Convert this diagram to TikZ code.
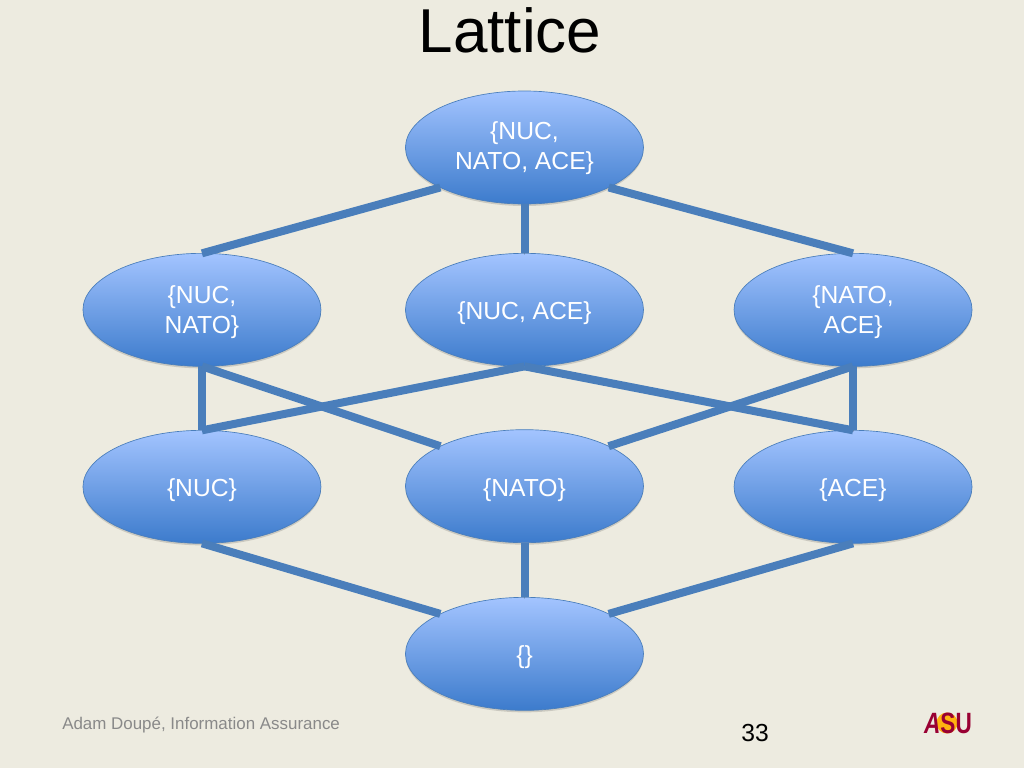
\documentclass[tikz,border=0pt]{standalone}
\usepackage{fontspec}
\setmainfont{Liberation Sans}
\usetikzlibrary{positioning}
\usetikzlibrary{shapes.geometric}
\usetikzlibrary{shadows}
\definecolor{slidebg}{HTML}{EDEBE0}
\definecolor{setlight}{HTML}{A3C4FF}
\definecolor{setdark}{HTML}{3C7BCC}
\definecolor{setedge}{HTML}{4A7EBB}
\definecolor{footgrey}{HTML}{898989}
\definecolor{asumaroon}{HTML}{990033}
\definecolor{asugold}{HTML}{FFB310}
\newcommand{\setstrut}[1]{\rule{0pt}{#1}}
\tikzset{latticeset/.style={ellipse,draw=setedge,line width=0.5pt,top color=setlight,bottom color=setdark,
inner sep=0pt,outer sep=0pt,minimum height=84.75pt, minimum width=178.5pt,text=white,align=center,
font=\fontsize{18.5}{22.5}\selectfont,execute at begin node={\rule{0pt}{18.7pt}},
drop shadow={shadow xshift=0pt,shadow yshift=-1.5pt,opacity=0.14,fill=black}}}
\tikzset{latticeedge/.style={draw=setedge,line width=6pt,
preaction={draw=black,opacity=0.14,transform canvas={yshift=-1.2pt}}}}

\begin{document}
\begin{tikzpicture}[x=0.75pt,y=-0.75pt]

        \fill[slidebg] (0,0) rectangle (1024,768);
        \useasboundingbox (0,0) rectangle (1024,768);

        \node[font=\fontsize{46.5}{50}\selectfont] (title) at (510,30) {Lattice};

        \node[latticeset] (setNucNatoAce) at (524.5,147.5) {\setstrut{14.7pt}\{NUC,\\NATO, ACE\}};

        \node[latticeset] (setNucAce) [below=37pt of setNucNatoAce] {\{NUC, ACE\}};
        \node[latticeset] (setNucNato) [left=63.4pt of setNucAce] {\setstrut{17pt}\{NUC,\\NATO\}};
        \node[latticeset] (setNatoAce) [right=67.9pt of setNucAce] {\setstrut{17pt}\{NATO,\\ACE\}};

        \node[latticeset] (setNuc) [below=48pt of setNucNato] {\{NUC\}};
        \node[latticeset] (setNato) [below=47.5pt of setNucAce] {\{NATO\}};
        \node[latticeset] (setAce) [below=48pt of setNatoAce] {\{ACE\}};

        \node[latticeset] (setEmpty) [below=41pt of setNato] {\{\}};

        \draw[latticeedge] (setNucNatoAce.south west) -- (setNucNato.north);
        \draw[latticeedge] (setNucNatoAce.south) -- (setNucAce.north);
        \draw[latticeedge] (setNucNatoAce.south east) -- (setNatoAce.north);

        \draw[latticeedge] (setNucNato.south) -- (setNuc.north);
        \draw[latticeedge] (setNucNato.south) -- (setNato.north west);
        \draw[latticeedge] (setNucAce.south) -- (setNuc.north);
        \draw[latticeedge] (setNucAce.south) -- (setAce.north);
        \draw[latticeedge] (setNatoAce.south) -- (setNato.north east);
        \draw[latticeedge] (setNatoAce.south) -- (setAce.north);

        \draw[latticeedge] (setNuc.south) -- (setEmpty.north west);
        \draw[latticeedge] (setNato.south) -- (setEmpty.north);
        \draw[latticeedge] (setAce.south) -- (setEmpty.north east);

        \node[font=\fontsize{12.7}{14}\selectfont,text=footgrey,anchor=west,inner sep=0pt] (footer) at (62,725) {Adam Doupé, Information Assurance};
        \node[font=\fontsize{18.5}{22}\selectfont] (pageNum) at (755,733) {33};

        \fill[asugold] (947,723) circle (10.5);
        \node[font=\fontsize{22}{22}\bfseries\selectfont,text=asumaroon,inner sep=0pt] (asuLogo) at (948,723) {\scalebox{0.77}[1]{\textit{A}SU}};

    \end{tikzpicture}
\end{document}
